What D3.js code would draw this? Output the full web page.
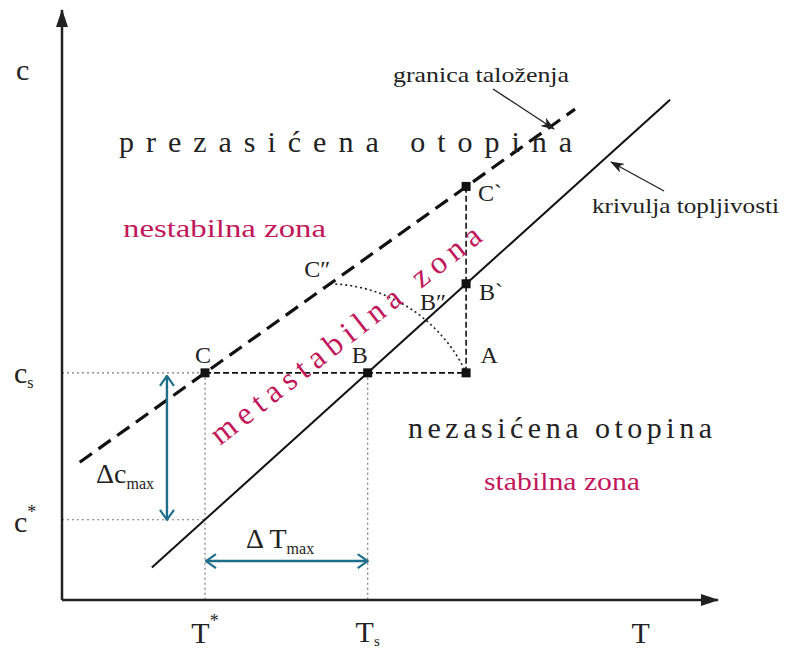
<!DOCTYPE html>
<html><head><meta charset="utf-8">
<script src="https://cdn.jsdelivr.net/npm/d3@7"></script>
<style>body{margin:0;background:#fff}</style>
</head><body>
<svg id="chart" width="785" height="652"></svg>
<script>
// ---- data (arbitrary units: T along x, c along y) ----
const keyTNames = ["T*", "Ts"];
const keyT = [21.8, 46.6];          // T*, Ts
const keyCNames = ["c*", "cs"];
const keyC = [13.6, 38.5];          // c*, cs
const solubilityT = [13.7, 92.7];   // krivulja topljivosti
const solubilityC = [5.5, 84.8];
const precipitationT = [2.7, 78.2]; // granica taloženja
const precipitationC = [23.35, 83.2];
const pointNames = ["C", "B", "A", "B`", "C`"];
const pointT = [21.8, 46.6, 61.6, 61.6, 61.6];
const pointC = [38.5, 38.5, 38.5, 53.6, 70.1];
const arcNames = ["C″", "B″", "A"];
const arcT = [40.9, 55.5, 61.6];
const arcC = [53.6, 47.4, 38.5];

const svg = d3.select("#chart");
const x = d3.scaleLinear([0, 100], [62, 718]);
const y = d3.scaleLinear([0, 100], [600, 10]);
const serif = "'Liberation Serif','Times New Roman',serif";
const crimson = "#c2185b";
const teal = "#1f6f8b";

const defs = svg.append("defs");
defs.append("marker").attr("id", "axArrow").attr("markerUnits", "userSpaceOnUse")
  .attr("viewBox", "0 0 18 12").attr("markerWidth", 18).attr("markerHeight", 12)
  .attr("refX", 17).attr("refY", 6).attr("orient", "auto")
  .append("path").attr("d", "M0,0 L18,6 L0,12 z").attr("fill", "#222");
defs.append("marker").attr("id", "tealHead").attr("markerUnits", "userSpaceOnUse")
  .attr("viewBox", "0 0 12 16").attr("markerWidth", 12).attr("markerHeight", 16)
  .attr("refX", 11).attr("refY", 8).attr("orient", "auto-start-reverse")
  .append("path").attr("d", "M1,1 L11,8 L1,15").attr("fill", "none")
  .attr("stroke", teal).attr("stroke-width", 2.2);
defs.append("marker").attr("id", "noteArrow").attr("markerUnits", "userSpaceOnUse")
  .attr("viewBox", "0 0 14 10").attr("markerWidth", 14).attr("markerHeight", 10)
  .attr("refX", 13).attr("refY", 5).attr("orient", "auto")
  .append("path").attr("d", "M0,0 L14,5 L0,10 L4,5 z").attr("fill", "#222");

const line = d3.line().x(d => x(d[0])).y(d => y(d[1]));

// guide dotted lines
const guide = (pts) => svg.append("path").attr("d", line(pts)).attr("fill", "none")
  .attr("stroke", "#777").attr("stroke-width", 1.2).attr("stroke-dasharray", "2,3");
guide([[0, keyC[1]], [keyT[0], keyC[1]]]);
guide([[0, keyC[0]], [keyT[0], keyC[0]]]);
guide([[keyT[0], keyC[1]], [keyT[0], 0]]);
guide([[keyT[1], keyC[1]], [keyT[1], 0]]);

// dashed C-A and A-C`
const dashed = (pts) => svg.append("path").attr("d", line(pts)).attr("fill", "none")
  .attr("stroke", "#111").attr("stroke-width", 1.6).attr("stroke-dasharray", "6,3");
dashed([[pointT[0], pointC[0]], [pointT[2], pointC[2]]]);
dashed([[pointT[2], pointC[2]], [pointT[4], pointC[4]]]);

// dotted arc C″ - B″ - A (circle through three points)
(function () {
  const p = arcT.map((t, i) => [x(t), y(arcC[i])]);
  const [ax, ay] = p[0], [bx, by] = p[1], [cx, cy] = p[2];
  const d = 2 * (ax * (by - cy) + bx * (cy - ay) + cx * (ay - by));
  const ux = ((ax*ax+ay*ay)*(by-cy) + (bx*bx+by*by)*(cy-ay) + (cx*cx+cy*cy)*(ay-by)) / d;
  const uy = ((ax*ax+ay*ay)*(cx-bx) + (bx*bx+by*by)*(ax-cx) + (cx*cx+cy*cy)*(bx-ax)) / d;
  const r = Math.hypot(ax - ux, ay - uy);
  const a0 = Math.atan2(ay - uy, ax - ux), a1 = Math.atan2(cy - uy, cx - ux);
  const pth = d3.path();
  pth.moveTo(ax, ay);
  pth.arc(ux, uy, r, a0, a1, false);
  svg.append("path").attr("d", pth.toString()).attr("fill", "none")
    .attr("stroke", "#222").attr("stroke-width", 1.6).attr("stroke-dasharray", "2,3");
})();

// precipitation (dashed) line
svg.append("path").attr("d", line(precipitationT.map((t, i) => [t, precipitationC[i]])))
  .attr("fill", "none").attr("stroke", "#111").attr("stroke-width", 3.2)
  .attr("stroke-dasharray", "15,8");
// solubility line
svg.append("path").attr("d", line(solubilityT.map((t, i) => [t, solubilityC[i]])))
  .attr("fill", "none").attr("stroke", "#111").attr("stroke-width", 2);

// axes
svg.append("line").attr("x1", x(0)).attr("y1", y(0)).attr("x2", x(100)).attr("y2", y(0))
  .attr("stroke", "#222").attr("stroke-width", 2.5).attr("marker-end", "url(#axArrow)");
svg.append("line").attr("x1", x(0)).attr("y1", y(0)).attr("x2", x(0)).attr("y2", y(100))
  .attr("stroke", "#222").attr("stroke-width", 2.5).attr("marker-end", "url(#axArrow)");

// teal double arrows
const xArrow = 16;    // T position of the Δc arrow
svg.append("line").attr("x1", x(xArrow)).attr("y1", y(keyC[1]) + 3)
  .attr("x2", x(xArrow)).attr("y2", y(keyC[0]))
  .attr("stroke", teal).attr("stroke-width", 2.4)
  .attr("marker-start", "url(#tealHead)").attr("marker-end", "url(#tealHead)");
const cArrow = 6.6;   // c position of the ΔT arrow
svg.append("line").attr("x1", x(keyT[0]) + 1).attr("y1", y(cArrow))
  .attr("x2", x(keyT[1])).attr("y2", y(cArrow))
  .attr("stroke", teal).attr("stroke-width", 2.4)
  .attr("marker-start", "url(#tealHead)").attr("marker-end", "url(#tealHead)");

// points
svg.selectAll("rect.pt").data(pointT).join("rect").attr("class", "pt")
  .attr("x", (t) => x(t) - 4.5).attr("y", (t, i) => y(pointC[i]) - 4.5)
  .attr("width", 9).attr("height", 9).attr("fill", "#111");

// text helper
function txt(s, px, py, size, opts = {}) {
  const t = svg.append("text").attr("x", px).attr("y", py)
    .attr("font-family", serif).attr("font-size", size)
    .attr("fill", opts.fill || "#222").attr("text-anchor", opts.anchor || "start")
    .text(s);
  if (opts.len) t.attr("textLength", opts.len).attr("lengthAdjust", opts.adj || "spacingAndGlyphs");
  if (opts.rot) t.attr("transform", `rotate(${opts.rot},${px},${py})`);
  return t;
}

// point labels
const labOff = { "C": [-2, -10, "middle"], "B": [-8, -10, "middle"], "A": [23, -10, "middle"],
  "B`": [13, 16, "start"], "C`": [12, 15, "start"] };
pointNames.forEach((n, i) => {
  const o = labOff[n];
  txt(n, x(pointT[i]) + o[0], y(pointC[i]) + o[1], 24, { anchor: o[2] });
});
txt(arcNames[0], x(arcT[0]), y(arcC[0]) - 7, 24, { anchor: "end" });
txt(arcNames[1], x(arcT[1]) - 6, y(arcC[1]) - 10, 24);

// axis labels
txt("c", 16, 80, 30);
const cs = txt("c", 14, y(keyC[1]) + 10, 30);
cs.append("tspan").attr("font-size", 16).attr("dy", 5).text("s");
const cst = txt("c", 14, y(keyC[0]) + 12, 30);
cst.append("tspan").attr("font-size", 18).attr("dy", -14).text("*");
const tst = txt("T", x(keyT[0]), 643, 30, { anchor: "middle" });
tst.append("tspan").attr("font-size", 18).attr("dy", -16).text("*");
const ts = txt("T", x(keyT[1]), 642, 30, { anchor: "middle" });
ts.append("tspan").attr("font-size", 15).attr("dy", 4).text("s");
txt("T", x(88.2), 643, 30, { anchor: "middle" });

// delta labels
const dc = txt("Δc", 96, 483, 28);
dc.append("tspan").attr("font-size", 16).attr("dy", 6).text("max");
const dt = txt("Δ T", 246, 548, 28);
dt.append("tspan").attr("font-size", 16).attr("dy", 6).text("max");

// region labels
txt("prezasićena otopina", 119, 152, 30, { len: 453, adj: "spacing" });
txt("nezasićena otopina", 408, 438, 30, { len: 304, adj: "spacing" });
txt("nestabilna zona", 123, 237, 25, { fill: crimson, len: 203 });
txt("stabilna zona", 484, 490, 25, { fill: crimson, len: 156 });
txt("metastabilna zona", 220, 446, 32, { fill: crimson, len: 335, adj: "spacing", rot: -38 });

// notes with arrows
txt("granica taloženja", 393, 82, 21, { len: 176 });
svg.append("line").attr("x1", 493).attr("y1", 89).attr("x2", 554).attr("y2", 129)
  .attr("stroke", "#222").attr("stroke-width", 1.3).attr("marker-end", "url(#noteArrow)");
txt("krivulja topljivosti", 592, 213, 21, { len: 187 });
svg.append("line").attr("x1", 664).attr("y1", 191).attr("x2", 611).attr("y2", 162)
  .attr("stroke", "#222").attr("stroke-width", 1.3).attr("marker-end", "url(#noteArrow)");
</script>
</body></html>
